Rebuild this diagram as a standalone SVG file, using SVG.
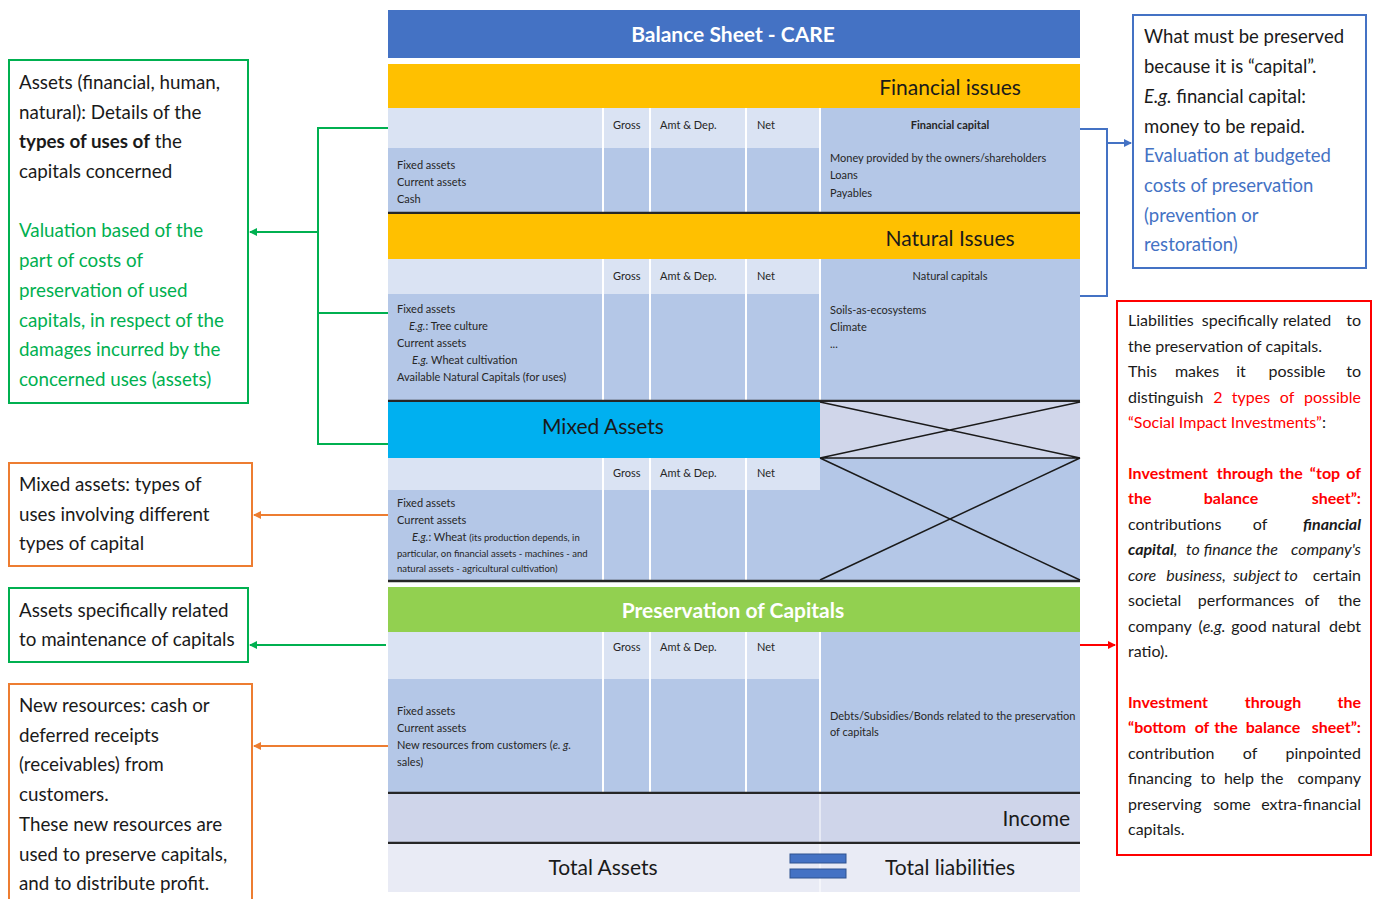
<svg xmlns="http://www.w3.org/2000/svg" width="1379" height="899" viewBox="0 0 1379 899">
<defs>
<style>
text{font-family:Lato,"Liberation Sans",sans-serif;}
.sm{font-size:11px;fill:#262626;}
.hd{font-size:11px;fill:#262626;}
.big{font-size:21px;fill:#1a1a1a;}
.wb{font-size:21px;fill:#fff;font-weight:bold;}
.lb{font-size:18.8px;fill:#1a1a1a;}
.nb{font-size:18.5px;}
.lg{fill:#00B050;}
.bl{fill:#4472C4;}
.rb{font-size:16px;fill:#1a1a1a;}
.red{fill:#FF0000;}
.b{font-weight:bold;}
.i{font-style:italic;}
.e{text-anchor:end;}
.m{text-anchor:middle;}
.hdr{fill:#DAE3F3;}
.dat{fill:#B4C7E7;}
.sep{stroke:#fff;stroke-width:2;}
.dk{stroke:#262626;stroke-width:2.5;}
.x{stroke:#1a1a1a;stroke-width:1.5;fill:none;}
.cg{stroke:#00B050;stroke-width:2;fill:none;}
.co{stroke:#ED7D31;stroke-width:2;fill:none;}
.cb{stroke:#4472C4;stroke-width:2;fill:none;}
.cr{stroke:#FF0000;stroke-width:2;fill:none;}
</style>
<marker id="ag" markerWidth="8" markerHeight="8" refX="7" refY="4" orient="auto" markerUnits="userSpaceOnUse"><path d="M0,0 L8,4 L0,8 z" fill="#00B050"/></marker>
<marker id="ao" markerWidth="8" markerHeight="8" refX="7" refY="4" orient="auto" markerUnits="userSpaceOnUse"><path d="M0,0 L8,4 L0,8 z" fill="#ED7D31"/></marker>
<marker id="ab" markerWidth="8" markerHeight="8" refX="7" refY="4" orient="auto" markerUnits="userSpaceOnUse"><path d="M0,0 L8,4 L0,8 z" fill="#4472C4"/></marker>
<marker id="ar" markerWidth="8" markerHeight="8" refX="7" refY="4" orient="auto" markerUnits="userSpaceOnUse"><path d="M0,0 L8,4 L0,8 z" fill="#FF0000"/></marker>
</defs>
<rect width="1379" height="899" fill="#fff"/>

<g id="balance-sheet">
<rect x="388" y="10" width="692" height="48" fill="#4472C4"/>
<text class="wb m" x="733" y="42">Balance Sheet - CARE</text>

<rect x="388" y="64" width="692" height="44" fill="#FFC000"/>
<text class="big m" x="950" y="95">Financial issues</text>
<rect class="hdr" x="388" y="108" width="432" height="40"/>
<rect class="dat" x="388" y="148" width="432" height="64"/>
<rect class="dat" x="820" y="108" width="260" height="104"/>
<line class="sep" x1="603" y1="108" x2="603" y2="212"/>
<line class="sep" x1="650" y1="108" x2="650" y2="212"/>
<line class="sep" x1="746" y1="108" x2="746" y2="212"/>
<line class="sep" x1="820" y1="108" x2="820" y2="212"/>
<text class="hd" x="613" y="129">Gross</text>
<text class="hd" x="660" y="129">Amt &amp; Dep.</text>
<text class="hd" x="757" y="129">Net</text>
<text class="sm" x="397" y="169">Fixed assets</text>
<text class="sm" x="397" y="186">Current assets</text>
<text class="sm" x="397" y="203">Cash</text>
<text class="sm b m" x="950" y="129">Financial capital</text>
<text class="sm" x="830" y="162">Money provided by the owners/shareholders</text>
<text class="sm" x="830" y="179">Loans</text>
<text class="sm" x="830" y="197">Payables</text>
<line class="dk" x1="388" y1="213" x2="1080" y2="213"/>

<rect x="388" y="214" width="692" height="45" fill="#FFC000"/>
<text class="big m" x="950" y="246">Natural Issues</text>
<rect class="hdr" x="388" y="259" width="432" height="35"/>
<rect class="dat" x="388" y="294" width="432" height="106"/>
<rect class="dat" x="820" y="259" width="260" height="141"/>
<line class="sep" x1="603" y1="259" x2="603" y2="400"/>
<line class="sep" x1="650" y1="259" x2="650" y2="400"/>
<line class="sep" x1="746" y1="259" x2="746" y2="400"/>
<line class="sep" x1="820" y1="259" x2="820" y2="400"/>
<text class="hd" x="613" y="280">Gross</text>
<text class="hd" x="660" y="280">Amt &amp; Dep.</text>
<text class="hd" x="757" y="280">Net</text>
<text class="sm" x="397" y="313">Fixed assets</text>
<text class="sm" x="409" y="330"><tspan class="i">E.g.</tspan>: Tree culture</text>
<text class="sm" x="397" y="347">Current assets</text>
<text class="sm" x="412" y="364"><tspan class="i">E.g.</tspan> Wheat cultivation</text>
<text class="sm" x="397" y="381">Available Natural Capitals (for uses)</text>
<text class="sm m" x="950" y="280">Natural capitals</text>
<text class="sm" x="830" y="314">Soils-as-ecosystems</text>
<text class="sm" x="830" y="331">Climate</text>
<text class="sm" x="830" y="348">...</text>
<line class="dk" x1="388" y1="401" x2="1080" y2="401"/>

<rect x="388" y="402" width="432" height="56" fill="#00B0F0"/>
<text class="big m" x="603" y="434">Mixed Assets</text>
<rect x="820" y="402" width="260" height="56" fill="#D0D6EA"/>
<rect class="hdr" x="388" y="458" width="432" height="32"/>
<rect class="dat" x="388" y="490" width="432" height="90"/>
<rect class="dat" x="820" y="458" width="260" height="122"/>
<line class="sep" x1="603" y1="458" x2="603" y2="580"/>
<line class="sep" x1="650" y1="458" x2="650" y2="580"/>
<line class="sep" x1="746" y1="458" x2="746" y2="580"/>
<text class="hd" x="613" y="477">Gross</text>
<text class="hd" x="660" y="477">Amt &amp; Dep.</text>
<text class="hd" x="757" y="477">Net</text>
<text class="sm" x="397" y="507">Fixed assets</text>
<text class="sm" x="397" y="524">Current assets</text>
<text class="sm" x="412" y="541"><tspan class="i">E.g.</tspan>: Wheat <tspan style="font-size:9.5px">(its production depends, in</tspan></text>
<text class="sm" x="397" y="557" style="font-size:9.5px">particular, on financial assets - machines - and</text>
<text class="sm" x="397" y="572" style="font-size:9.5px">natural assets - agricultural cultivation)</text>
<path class="x" d="M820,402 L1080,458 M820,458 L1080,402 M820,458 L1080,580 M820,580 L1080,458 M820,458 L1080,458"/>
<line class="dk" x1="388" y1="581" x2="1080" y2="581"/>

<rect x="388" y="587" width="692" height="45" fill="#92D050"/>
<text class="wb m" x="733" y="618">Preservation of Capitals</text>
<rect class="hdr" x="388" y="632" width="432" height="47"/>
<rect class="dat" x="388" y="679" width="432" height="113"/>
<rect class="dat" x="820" y="632" width="260" height="160"/>
<line class="sep" x1="603" y1="632" x2="603" y2="792"/>
<line class="sep" x1="650" y1="632" x2="650" y2="792"/>
<line class="sep" x1="746" y1="632" x2="746" y2="792"/>
<line class="sep" x1="820" y1="632" x2="820" y2="792"/>
<text class="hd" x="613" y="651">Gross</text>
<text class="hd" x="660" y="651">Amt &amp; Dep.</text>
<text class="hd" x="757" y="651">Net</text>
<text class="sm" x="397" y="715">Fixed assets</text>
<text class="sm" x="397" y="732">Current assets</text>
<text class="sm" x="397" y="749">New resources from customers (<tspan class="i">e. g.</tspan></text>
<text class="sm" x="397" y="766">sales)</text>
<text class="sm" x="830" y="720">Debts/Subsidies/Bonds related to the preservation</text>
<text class="sm" x="830" y="736">of capitals</text>
<line class="dk" x1="388" y1="793" x2="1080" y2="793"/>

<rect x="388" y="794" width="692" height="48" fill="#CFD5EA"/>
<line class="sep" x1="820" y1="794" x2="820" y2="892" style="stroke-width:1"/>
<text class="big e" x="1070" y="826">Income</text>
<line class="dk" x1="388" y1="843" x2="1080" y2="843"/>

<rect x="388" y="844" width="692" height="48" fill="#E9EBF5"/>
<line class="sep" x1="820" y1="844" x2="820" y2="892" style="stroke-width:1"/>
<text class="big m" x="603" y="875">Total Assets</text>
<text class="big m" x="950" y="875">Total liabilities</text>
<rect x="790" y="854" width="56" height="9" fill="#4472C4" stroke="#2F528F" stroke-width="1"/>
<rect x="790" y="869" width="56" height="9" fill="#4472C4" stroke="#2F528F" stroke-width="1"/>
</g>

<g id="connectors">
<path class="cg" d="M388,128 H318 V444 H388 M318,313 H388"/>
<line class="cg" x1="318" y1="232" x2="250" y2="232" marker-end="url(#ag)"/>
<line class="co" x1="388" y1="515" x2="254" y2="515" marker-end="url(#ao)"/>
<line class="cg" x1="386" y1="645" x2="250" y2="645" marker-end="url(#ag)"/>
<line class="co" x1="388" y1="746" x2="254" y2="746" marker-end="url(#ao)"/>
<path class="cb" d="M1080,129 H1107 V296 H1080"/>
<line class="cb" x1="1107" y1="143" x2="1131" y2="143" marker-end="url(#ab)"/>
<line class="cr" x1="1080" y1="645" x2="1115" y2="645" marker-end="url(#ar)"/>
</g>

<g id="note-assets">
<rect x="9" y="60" width="239" height="343" fill="#fff" stroke="#00B050" stroke-width="2"/>
<text class="lb" x="19" y="89">Assets (financial, human,</text>
<text class="lb" x="19" y="119">natural): Details of the</text>
<text class="lb" x="19" y="148"><tspan class="b">types of uses of</tspan> the</text>
<text class="lb" x="19" y="178">capitals concerned</text>
<text class="lb lg" x="19" y="237">Valuation based of the</text>
<text class="lb lg" x="19" y="267">part of costs of</text>
<text class="lb lg" x="19" y="297">preservation of used</text>
<text class="lb lg" x="19" y="327">capitals, in respect of the</text>
<text class="lb lg" x="19" y="356">damages incurred by the</text>
<text class="lb lg" x="19" y="386">concerned uses (assets)</text>
</g>

<g id="note-mixed">
<rect x="9" y="463" width="243" height="103" fill="#fff" stroke="#ED7D31" stroke-width="2"/>
<text class="lb" x="19" y="491">Mixed assets: types of</text>
<text class="lb" x="19" y="521">uses involving different</text>
<text class="lb" x="19" y="550">types of capital</text>
</g>

<g id="note-maintenance">
<rect x="9" y="588" width="239" height="74" fill="#fff" stroke="#00B050" stroke-width="2"/>
<text class="lb" x="19" y="617">Assets specifically related</text>
<text class="lb" x="19" y="646">to maintenance of capitals</text>
</g>

<g id="note-resources">
<rect x="9" y="684" width="243" height="225" fill="#fff" stroke="#ED7D31" stroke-width="2"/>
<text class="lb" x="19" y="712">New resources: cash or</text>
<text class="lb" x="19" y="742">deferred receipts</text>
<text class="lb" x="19" y="771">(receivables) from</text>
<text class="lb" x="19" y="801">customers.</text>
<text class="lb" x="19" y="831">These new resources are</text>
<text class="lb" x="19" y="861">used to preserve capitals,</text>
<text class="lb" x="19" y="890">and to distribute profit.</text>
</g>

<g id="note-capital">
<rect x="1133" y="15" width="233" height="253" fill="#fff" stroke="#4472C4" stroke-width="2"/>
<text class="lb nb" x="1144" y="43">What must be preserved</text>
<text class="lb nb" x="1144" y="73">because it is “capital”.</text>
<text class="lb nb" x="1144" y="103"><tspan class="i">E.g.</tspan> financial capital:</text>
<text class="lb nb" x="1144" y="133">money to be repaid.</text>
<text class="lb nb bl" x="1144" y="162">Evaluation at budgeted</text>
<text class="lb nb bl" x="1144" y="192">costs of preservation</text>
<text class="lb nb bl" x="1144" y="222">(prevention or</text>
<text class="lb nb bl" x="1144" y="251">restoration)</text>
</g>

<g id="note-liabilities">
<rect x="1117" y="301" width="254" height="554" fill="#fff" stroke="#FF0000" stroke-width="2"/>
<text class="rb" x="1128" y="326">Liabilities</text>
<text class="rb m" x="1240" y="326">specifically</text>
<text class="rb m" x="1307" y="326">related</text>
<text class="rb e" x="1361" y="326">to</text>

<text class="rb" x="1128" y="352">the preservation of capitals.</text>

<text class="rb" x="1128" y="377">This</text>
<text class="rb m" x="1197" y="377">makes</text>
<text class="rb m" x="1241" y="377">it</text>
<text class="rb m" x="1297" y="377">possible</text>
<text class="rb e" x="1361" y="377">to</text>

<text class="rb" x="1128" y="403">distinguish</text>
<text class="rb red m" x="1218" y="403">2</text>
<text class="rb red m" x="1251" y="403">types</text>
<text class="rb red m" x="1287" y="403">of</text>
<text class="rb red e" x="1361" y="403">possible</text>

<text class="rb" x="1128" y="428"><tspan class="red">“Social Impact Investments”</tspan>:</text>

<text class="rb red b" x="1128" y="479">Investment</text>
<text class="rb red b m" x="1245" y="479">through</text>
<text class="rb red b m" x="1291" y="479">the</text>
<text class="rb red b m" x="1325" y="479">“top</text>
<text class="rb red b e" x="1361" y="479">of</text>

<text class="rb red b" x="1128" y="504">the</text>
<text class="rb red b m" x="1231" y="504">balance</text>
<text class="rb red b e" x="1361" y="504">sheet”:</text>

<text class="rb" x="1128" y="530">contributions</text>
<text class="rb m" x="1260" y="530">of</text>
<text class="rb b i e" x="1361" y="530">financial</text>

<text class="rb i" x="1128" y="555"><tspan class="b">capital</tspan>,</text>
<text class="rb i m" x="1193" y="555">to</text>
<text class="rb i m" x="1228" y="555">finance</text>
<text class="rb i m" x="1267" y="555">the</text>
<text class="rb i e" x="1361" y="555">company's</text>

<text class="rb i" x="1128" y="581">core</text>
<text class="rb i m" x="1196" y="581">business,</text>
<text class="rb i m" x="1257" y="581">subject</text>
<text class="rb i m" x="1291" y="581">to</text>
<text class="rb e" x="1361" y="581">certain</text>

<text class="rb" x="1128" y="606">societal</text>
<text class="rb m" x="1246" y="606">performances</text>
<text class="rb m" x="1312" y="606">of</text>
<text class="rb e" x="1361" y="606">the</text>

<text class="rb" x="1128" y="632">company</text>
<text class="rb m" x="1212" y="632">(<tspan class="i">e.g.</tspan></text>
<text class="rb m" x="1249" y="632">good</text>
<text class="rb m" x="1296" y="632">natural</text>
<text class="rb e" x="1361" y="632">debt</text>

<text class="rb" x="1128" y="657">ratio).</text>

<text class="rb red b" x="1128" y="708">Investment</text>
<text class="rb red b m" x="1273" y="708">through</text>
<text class="rb red b e" x="1361" y="708">the</text>

<text class="rb red b" x="1128" y="733">“bottom</text>
<text class="rb red b m" x="1202" y="733">of</text>
<text class="rb red b m" x="1226" y="733">the</text>
<text class="rb red b m" x="1273" y="733">balance</text>
<text class="rb red b e" x="1361" y="733">sheet”:</text>

<text class="rb" x="1128" y="759">contribution</text>
<text class="rb m" x="1250" y="759">of</text>
<text class="rb e" x="1361" y="759">pinpointed</text>

<text class="rb" x="1128" y="784">financing</text>
<text class="rb m" x="1208" y="784">to</text>
<text class="rb m" x="1239" y="784">help</text>
<text class="rb m" x="1272" y="784">the</text>
<text class="rb e" x="1361" y="784">company</text>

<text class="rb" x="1128" y="810">preserving</text>
<text class="rb m" x="1232" y="810">some</text>
<text class="rb e" x="1361" y="810">extra-financial</text>

<text class="rb" x="1128" y="835">capitals.</text>
</g>
</svg>
